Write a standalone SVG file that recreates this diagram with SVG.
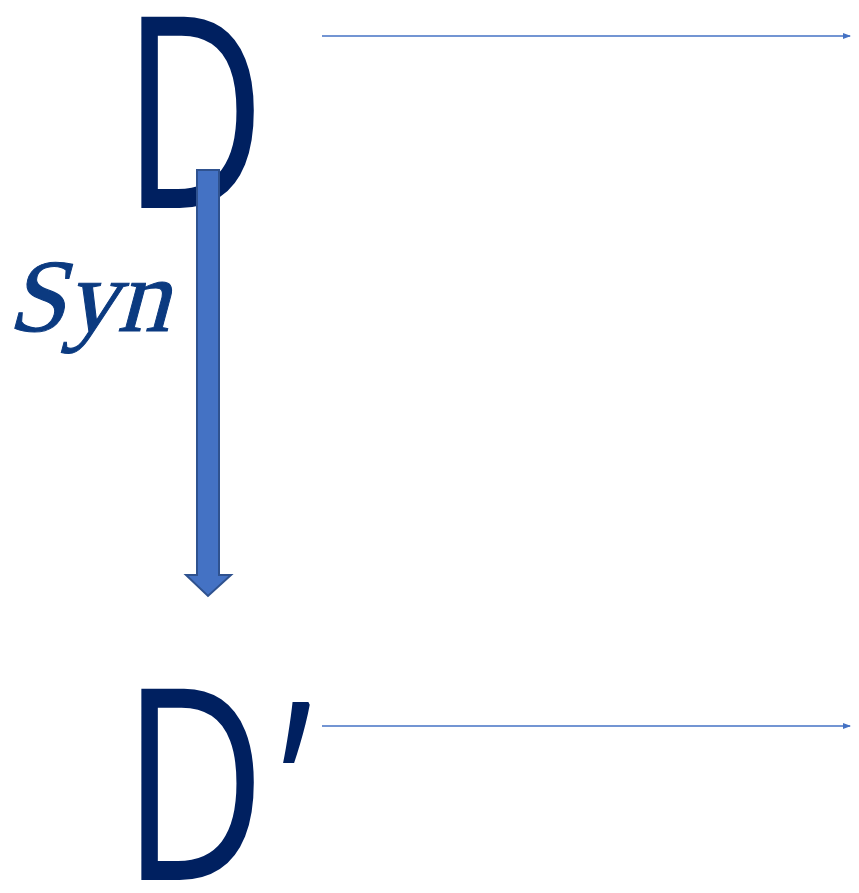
<svg xmlns="http://www.w3.org/2000/svg" width="859" height="893" viewBox="0 0 859 893">
<style>
.big{font-family:"Open Sans","DejaVu Sans",sans-serif;font-size:268px;fill:#002060}
.syn{font-family:"Liberation Serif","DejaVu Serif",serif;font-size:104px;fill:#0B3A80;stroke:#0B3A80;stroke-width:1}
.ln{stroke:#4472C4;stroke-width:1.3;fill:none}
</style>
<defs>
<marker id="ah" markerWidth="8" markerHeight="6" refX="7" refY="3" orient="auto" markerUnits="userSpaceOnUse">
<path d="M0,0 L8,3 L0,6 Z" fill="#4472C4"/>
</marker>
</defs>
<rect width="859" height="893" fill="#fff"/>
<g id="node-D">
<text class="big" transform="translate(122,208) scale(0.74,1)">D</text>
</g>
<g id="node-Dprime">
<text class="big" transform="translate(122,880) scale(0.74,1)">D<tspan dx="20" font-size="250">’</tspan></text>
</g>
<g id="label-Syn">
<text class="syn" transform="translate(7,331) skewX(-15)">Syn</text>
</g>
<g id="connectors">
<path d="M197,170 H219 V575 H231 L208,596 L186,575 H197 Z" fill="#4472C4" stroke="#2F528F" stroke-width="2"/>
<line class="ln" x1="322" y1="36" x2="850" y2="36" marker-end="url(#ah)"/>
<line class="ln" x1="322" y1="726" x2="850" y2="726" marker-end="url(#ah)"/>
</g>
</svg>
